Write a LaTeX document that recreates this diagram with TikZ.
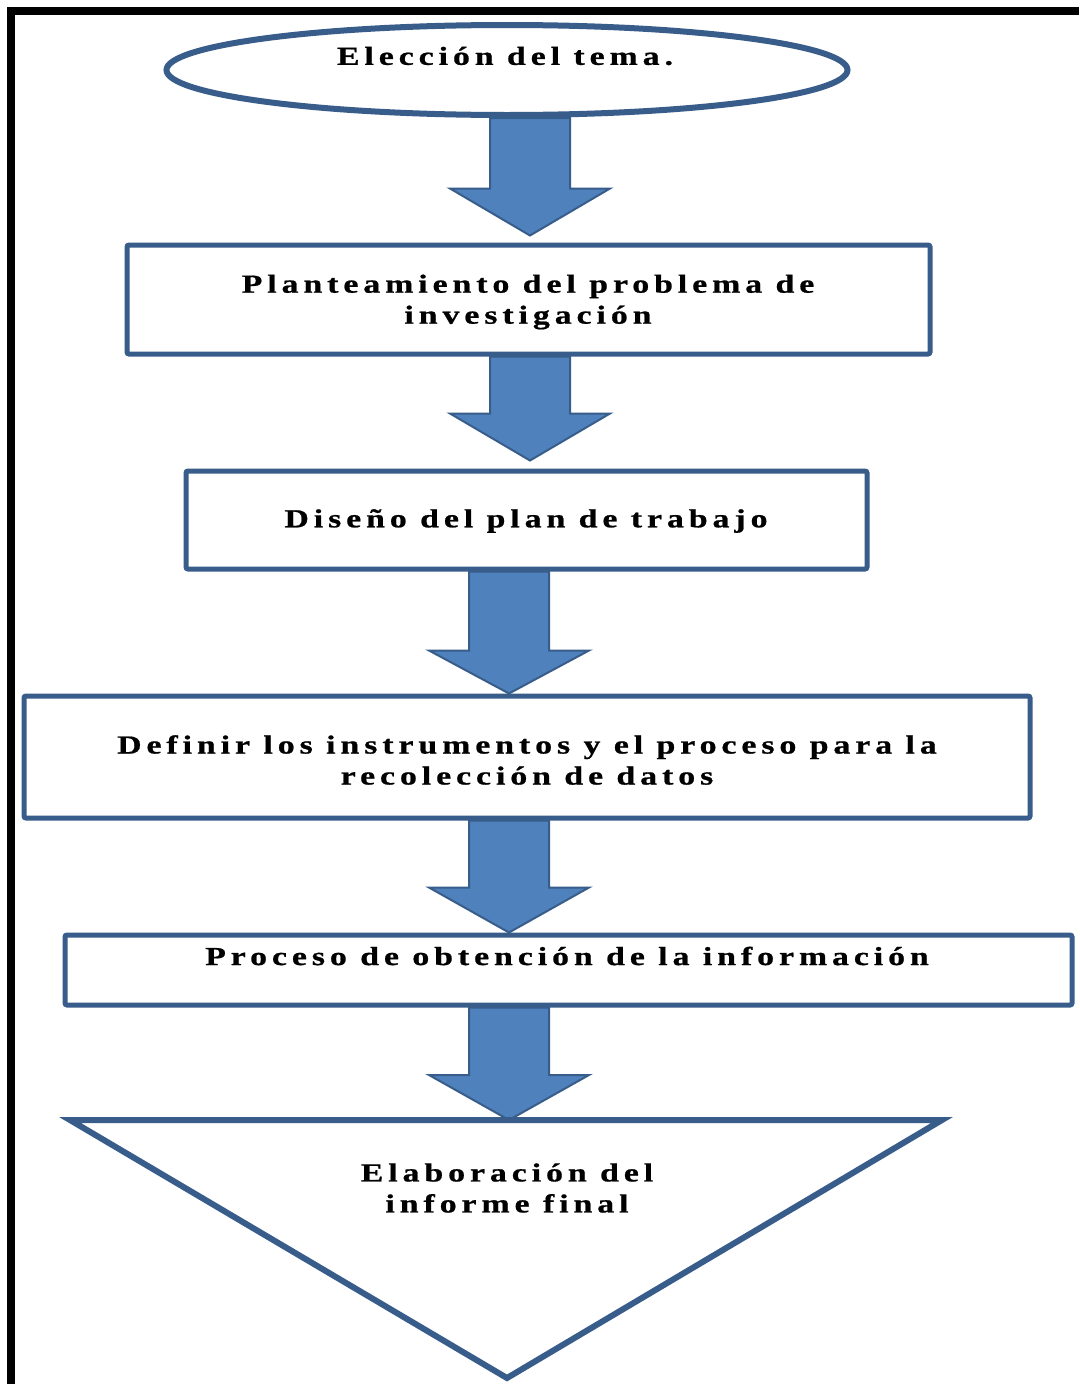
\documentclass[tikz,border=0pt]{standalone}
\usepackage{fontspec}
\setmainfont{Liberation Serif}
\newfontfamily\dfont[LetterSpace=19,FakeStretch=1.3,FakeBold=0.8]{Liberation Serif}
\usetikzlibrary{shapes.geometric,backgrounds,calc}
\definecolor{bord}{HTML}{385D8A}
\definecolor{afill}{HTML}{4F81BD}
\tikzset{
  lbl/.style={font=\dfont\bfseries\fontsize{26}{31}\selectfont, align=center, text=black, inner sep=0pt},
  stepbox/.style={draw=bord, line width=5pt, rounded corners=2pt, fill=white},
  oval/.style={ellipse, draw=bord, line width=6pt, fill=white},
  barrow/.style={fill=afill, draw=bord, line width=2pt, line join=miter},
}
\newcommand\blockarrow[5]{%
  \filldraw[barrow] let \p1=(#1), \p2=(#2), \n1={#3} in
   ({(\n1-40)*1pt},\y1) -- ({(\n1+40)*1pt},\y1) -- ({(\n1+40)*1pt},{\y2+#4+#5})
   -- ({(\n1+80)*1pt},{\y2+#4+#5}) -- ({\n1*1pt},{\y2+#4})
   -- ({(\n1-80)*1pt},{\y2+#4+#5}) -- ({(\n1-40)*1pt},{\y2+#4+#5}) -- cycle;}
\begin{document}
\begin{tikzpicture}[x=1pt,y=-1pt]
\useasboundingbox (0,0) rectangle (1079,1384);
% black frame
\draw[black, line width=8pt] (11,1384) -- (11,11) -- (1079,11);

% nodes
\node[oval, minimum width=681pt, minimum height=90pt, inner sep=0pt] (e) at (507,70) {};
\node[lbl] (et) at (505,56) {Elección del tema.};

\node[stepbox, minimum width=803pt, minimum height=109pt] (b1) at (528.5,299.5) {};
\node[lbl] (b1t) at (528,302) {Planteamiento del problema de\\investigación};

\node[stepbox, minimum width=681pt, minimum height=98pt] (b2) at (526.5,520) {};
\node[lbl] (b2t) at (526,521) {Diseño del plan de trabajo};

\node[stepbox, minimum width=1006pt, minimum height=122pt] (b3) at (527,757) {};
\node[lbl] (b3t) at (527,760) {Definir los instrumentos y el proceso para la\\recolección de datos};

\node[stepbox, minimum width=1007pt, minimum height=70pt] (b4) at (568.5,970) {};
\node[lbl] (b4t) at (567,956) {Proceso de obtención de la información};

% final triangle
\coordinate (tl) at (70,1120);
\coordinate (tr) at (942,1120);
\coordinate (tb) at (507,1378);
\coordinate (t) at (507,1120);
\draw[bord, line width=6pt, line join=miter, fill=white] (tl) -- (tr) -- (tb) -- cycle;
\node[lbl] (tt) at (507,1188) {Elaboración del\\informe final};

% block arrows
\begin{scope}[on background layer]
\fill[white] (0,0) rectangle (1079,1384);
\blockarrow{e.south}{b1.north}{530}{7pt}{47pt}
\blockarrow{b1.south}{b2.north}{530}{8pt}{47pt}
\blockarrow{b2.south}{b3.north}{509}{0pt}{43pt}
\blockarrow{b3.south}{b4.north}{509}{0pt}{45pt}
\blockarrow{b4.south}{t}{509}{0pt}{45pt}
\end{scope}
\end{tikzpicture}
\end{document}
